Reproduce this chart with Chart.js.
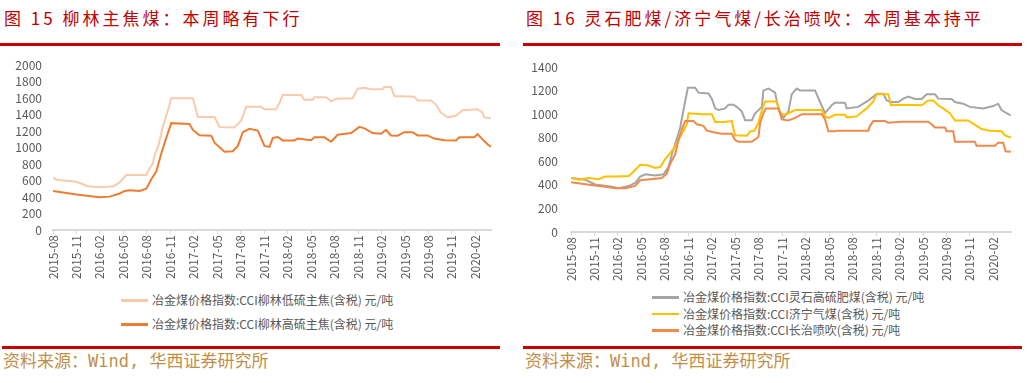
<!DOCTYPE html>
<html>
<head>
<meta charset="utf-8">
<script src="https://cdn.jsdelivr.net/npm/chart.js@4.4.1/dist/chart.umd.min.js"></script>
<style>
  html, body { margin: 0; padding: 0; background: #ffffff; }
  body { width: 1030px; height: 383px; position: relative; overflow: hidden; font-family: "Noto Sans CJK SC", sans-serif; }
  .title { position: absolute; top: 7px; font-size: 17px; letter-spacing: 3px; color: #C00000; white-space: nowrap; line-height: 22px; }
  .rule { position: absolute; height: 3px; background: #CC0000; }
  .source { position: absolute; top: 350px; font-size: 17px; color: #BF8F4A; white-space: nowrap; line-height: 22px;
            font-family: "DejaVu Sans Mono", "Noto Sans CJK SC", monospace; }
  canvas { position: absolute; }
  .legend { position: absolute; font-size: 12px; color: #595959; }
  .legend .item { position: absolute; white-space: nowrap; height: 16px; line-height: 16px; }
  .legend .swatch { position: absolute; left: 0; top: 7px; width: 27px; height: 2.5px; }
  .legend .label { position: absolute; left: 31px; top: 0; }
</style>
</head>
<body>
<div class="title" style="left:4px;">图 15 柳林主焦煤：本周略有下行</div>
<div class="rule" style="left:0px; top:43px; width:500px;"></div>
<div class="title" style="left:526px;">图 16 灵石肥煤/济宁气煤/长治喷吹：本周基本持平</div>
<div class="rule" style="left:523px; top:43px; width:499px;"></div>

<canvas id="c1" width="505" height="240" style="left:0px; top:47px;"></canvas>
<canvas id="c2" width="505" height="240" style="left:515px; top:47px;"></canvas>

<div class="legend" id="lg1" style="left:121px; top:292px;"></div>
<div class="legend" id="lg2" style="left:652px; top:289px;"></div>

<div class="rule" style="left:2px; top:346px; width:498px;"></div>
<div class="rule" style="left:523px; top:346px; width:499px;"></div>
<div class="source" style="left:3px;">资料来源：Wind, 华西证券研究所</div>
<div class="source" style="left:525px;">资料来源：Wind, 华西证券研究所</div>

<script>
// x values: months elapsed since 2015-08 (first axis label)
const tickLabels = ['2015-08','2015-11','2016-02','2016-05','2016-08','2016-11','2017-02','2017-05','2017-08','2017-11','2018-02','2018-05','2018-08','2018-11','2019-02','2019-05','2019-08','2019-11','2020-02'];

// 图15 柳林低硫主焦
const liulinLowX = [0,0.43,2.99,4.47,5.96,7.75,8.52,9.37,11.93,12.13,12.77,12.99,13.54,13.97,14.48,14.90,15.12,17.88,18.52,20.65,21.29,23.20,24.06,24.70,26.62,27.04,28.53,28.95,29.37,31.72,32.14,33.21,33.42,34.92,35.56,36.19,38.31,38.95,39.81,40.66,42.15,42.36,43.22,43.64,46.19,46.62,48.33,48.96,49.60,50.45,51.52,52.36,54.28,54.92,55.13,55.99];
const liulinLowY = [636,609,586,532,520,532,578,667,667,713,809,906,1040,1233,1387,1522,1600,1600,1370,1370,1250,1245,1330,1495,1495,1465,1465,1541,1638,1638,1580,1580,1610,1610,1561,1592,1599,1715,1726,1707,1707,1734,1734,1626,1618,1572,1572,1522,1425,1368,1387,1453,1465,1425,1368,1356];
// 图15 柳林高硫主焦
const liulinHighX = [0,2.99,5.96,7.24,8.52,9.16,9.80,11.08,11.93,12.57,13.21,13.84,14.48,15.12,17.46,17.88,18.73,20.23,20.65,21.93,22.99,23.63,24.27,25.12,26.18,27.04,27.68,28.10,28.74,29.37,30.87,31.29,33.00,33.42,34.70,35.56,36.40,38.11,39.17,39.81,40.87,41.94,42.58,43.22,44.06,44.92,45.98,46.62,47.89,48.75,50.03,51.52,51.94,53.86,54.28,55.13,55.56,55.99];
const liulinHighY = [474,431,397,405,443,474,482,474,501,616,713,925,1118,1297,1287,1214,1150,1145,1060,950,956,1021,1187,1228,1206,1021,1009,1118,1129,1087,1087,1110,1090,1125,1125,1071,1156,1176,1252,1233,1176,1168,1214,1148,1145,1187,1187,1148,1148,1110,1090,1087,1125,1125,1164,1079,1040,1009];

// 图16 灵石高硫肥煤
const lingshiX = [0,1.83,3.10,5.24,6.08,7.36,8.21,8.85,9.49,10.77,11.83,12.46,12.90,13.54,13.96,14.38,14.94,15.87,16.30,17.57,18.01,18.43,18.85,19.71,20.13,20.77,21.19,21.84,22.26,23.12,23.54,24.39,24.60,25.24,26.09,26.51,27.15,27.79,28.22,28.86,29.28,31.20,31.75,32.48,33.33,33.75,35.03,35.25,36.73,37.37,38.01,38.65,39.08,39.92,40.36,41.00,41.84,42.48,43.12,43.97,44.83,45.47,46.53,46.95,48.66,49.08,50.14,51.00,52.70,53.98,54.61,55.04,55.68,56.23];
const lingshiY = [458,444,404,385,371,390,417,471,490,480,490,552,660,794,888,1036,1225,1225,1184,1176,1130,1050,1036,1050,1082,1082,1063,1023,950,950,1009,1063,1203,1219,1184,1050,969,1023,1171,1219,1203,1203,1117,1009,1077,1098,1098,1050,1063,1090,1117,1150,1175,1175,1117,1104,1104,1133,1150,1130,1130,1171,1171,1133,1130,1104,1090,1063,1050,1070,1090,1036,1009,990];
// 图16 济宁气煤
const jiningX = [0,0.97,2.25,3.52,4.38,5.66,7.36,7.99,8.85,9.91,10.77,11.40,12.04,12.81,13.32,13.74,14.18,14.81,15.02,16.73,18.01,18.43,19.49,20.56,20.77,20.98,22.48,22.90,23.45,23.96,24.47,24.81,26.31,26.73,27.37,27.79,28.65,32.06,32.48,32.90,33.75,35.03,35.25,36.53,37.16,37.80,38.65,39.08,40.56,40.91,42.06,44.83,45.67,46.31,46.95,47.59,48.44,49.08,50.78,51.85,52.49,53.55,55.04,55.47,56.23];
const jiningY = [458,444,458,449,471,471,476,512,571,565,544,552,619,681,727,781,835,915,1009,1000,1000,935,934,942,875,821,818,853,861,928,1050,1109,1109,1009,996,1009,1036,1036,982,969,996,996,974,982,1017,1050,1109,1171,1171,1077,1082,1077,1117,1117,1077,1050,1009,948,948,902,875,861,856,821,802];
// 图16 长治喷吹
const changzhiX = [0,1.40,3.10,4.38,5.66,6.93,8.21,8.85,10.13,11.62,12.26,12.68,13.32,13.74,14.18,14.60,15.66,16.09,16.93,17.37,18.21,19.28,20.56,20.98,21.40,23.12,23.96,24.18,24.60,24.90,26.51,26.95,27.79,28.65,29.50,32.06,32.48,32.90,33.75,33.97,38.01,38.23,38.65,40.14,40.56,42.27,45.67,46.10,46.53,47.80,48.02,48.86,49.08,51.63,51.85,54.19,54.61,55.25,55.56,56.23];
const changzhiY = [423,409,396,385,371,371,391,439,449,458,498,579,660,781,875,942,942,915,902,861,848,835,835,781,767,767,807,928,1009,1050,1050,956,948,969,1001,1001,956,856,856,861,861,902,942,942,928,937,937,915,888,888,856,856,767,767,732,732,759,759,686,681];

const yTicks1 = [0,200,400,600,800,1000,1200,1400,1600,1800,2000];
const yTicks2 = [0,200,400,600,800,1000,1200,1400];

function monthsOf(label) {
  const [y, m] = label.split('-').map(Number);
  return (y - 2015) * 12 + (m - 8);
}
const tickPos = tickLabels.map(monthsOf);
const labelAt = {};
tickLabels.forEach((l, i) => { labelAt[tickPos[i]] = l; });

function pts(xs, ys) { return xs.map((x, i) => ({ x: x, y: ys[i] })); }

const FONT = "'Noto Sans CJK SC', sans-serif";
const GREY_TEXT = '#595959';

function makeChart(id, datasets, yTicks, cfg) {
  return new Chart(document.getElementById(id), {
    type: 'line',
    data: { datasets: datasets },
    options: {
      responsive: false,
      animation: false,
      devicePixelRatio: 1,
      layout: { padding: { top: cfg.padTop, right: cfg.padRight, bottom: 0, left: 0 } },
      plugins: { legend: { display: false }, tooltip: { enabled: false } },
      elements: { point: { radius: 0 }, line: { tension: 0, borderWidth: 2, borderCapStyle: 'butt', borderJoinStyle: 'miter' } },
      scales: {
        x: {
          type: 'linear',
          min: 0,
          max: cfg.xMax,
          afterFit: (ax) => { ax.height = cfg.xAxisH; },
          afterBuildTicks: (ax) => { ax.ticks = tickPos.map(v => ({ value: v })); },
          grid: { display: true, drawOnChartArea: false, drawTicks: true, tickLength: 4, color: '#D9D9D9', lineWidth: 1 },
          border: { display: true, color: '#D9D9D9', width: 2 },
          ticks: {
            autoSkip: false, minRotation: 90, maxRotation: 90, padding: 1,
            color: GREY_TEXT, font: { family: FONT, size: 12 },
            callback: (v) => labelAt[v] || ''
          }
        },
        y: {
          type: 'linear',
          min: yTicks[0],
          max: yTicks[yTicks.length - 1],
          afterFit: (ax) => { ax.width = cfg.yAxisW; },
          afterBuildTicks: (ax) => { ax.ticks = yTicks.map(v => ({ value: v })); },
          grid: { display: false, drawTicks: false },
          border: { display: false },
          ticks: { autoSkip: false, padding: cfg.yPad, color: GREY_TEXT, font: { family: FONT, size: 12 },
                   callback: (v) => String(v) }
        }
      }
    }
  });
}

const ds1 = [
  { label: '冶金煤价格指数:CCI柳林低硫主焦(含税) 元/吨', data: pts(liulinLowX, liulinLowY), borderColor: '#F8CBAD', order: 2 },
  { label: '冶金煤价格指数:CCI柳林高硫主焦(含税) 元/吨', data: pts(liulinHighX, liulinHighY), borderColor: '#ED7D31', order: 1 }
];
const ds2 = [
  { label: '冶金煤价格指数:CCI灵石高硫肥煤(含税) 元/吨', data: pts(lingshiX, lingshiY), borderColor: '#A5A5A5', order: 3 },
  { label: '冶金煤价格指数:CCI济宁气煤(含税) 元/吨', data: pts(jiningX, jiningY), borderColor: '#FFC000', order: 2 },
  { label: '冶金煤价格指数:CCI长治喷吹(含税) 元/吨', data: pts(changzhiX, changzhiY), borderColor: '#F08A4B', order: 1 }
];

makeChart('c1', ds1, yTicks1, { padTop: 10, padRight: 14, xAxisH: 57, yAxisW: 53, yPad: 11, xMax: 56 });
makeChart('c2', ds2, yTicks2, { padTop: 11, padRight: 9, xAxisH: 55, yAxisW: 56, yPad: 13, xMax: 56.25 });

function buildLegend(id, datasets, rowGap) {
  const el = document.getElementById(id);
  datasets.forEach((d, i) => {
    const item = document.createElement('div');
    item.className = 'item';
    item.style.top = (i * rowGap) + 'px';
    const sw = document.createElement('div');
    sw.className = 'swatch';
    sw.style.background = d.borderColor;
    const lb = document.createElement('div');
    lb.className = 'label';
    lb.textContent = d.label;
    item.appendChild(sw); item.appendChild(lb);
    el.appendChild(item);
  });
}
buildLegend('lg1', ds1, 24);
buildLegend('lg2', ds2, 16.5);
</script>
</body>
</html>
